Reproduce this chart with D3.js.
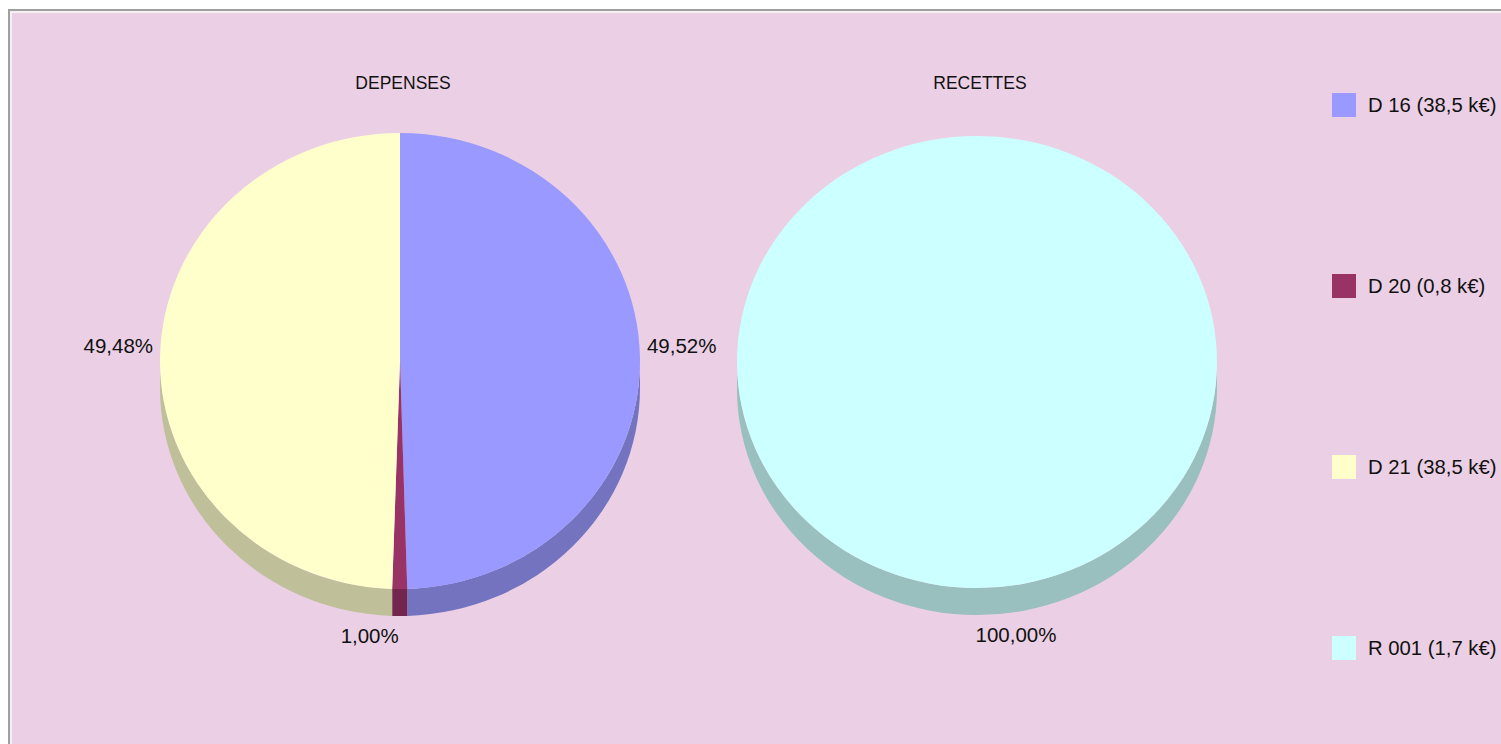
<!DOCTYPE html>
<html>
<head>
<meta charset="utf-8">
<script src="https://cdn.jsdelivr.net/npm/d3@7"></script>
<style>
  html, body { margin: 0; padding: 0; background: #fff; }
  svg { display: block; }
  text { font-family: "Liberation Sans", Arial, sans-serif; fill: #111; }
</style>
</head>
<body>
<svg id="chart" width="1501" height="744"></svg>
<script>
// data
let depTitle = "DEPENSES";
let recTitle = "RECETTES";
let depCats = ["D 16", "D 20", "D 21"];
let depPct = [49.52, 1.00, 49.48];
let recCats = ["R 001"];
let recPct = [100.00];
let legendCats = ["D 16", "D 20", "D 21", "R 001"];
let legendK = [38.5, 0.8, 38.5, 1.7];

let colors = {
    "D 16": "#9999ff",
    "D 20": "#993366",
    "D 21": "#ffffcc",
    "R 001": "#ccffff"
};

const W = 1501, H = 744;
const svg = d3.select("#chart");

// frame
svg.append("rect").attr("x", 8).attr("y", 9).attr("width", W).attr("height", H).attr("fill", "#a0a0a0");
svg.append("rect").attr("x", 10).attr("y", 11).attr("width", W).attr("height", H).attr("fill", "#f4f0f3");
svg.append("rect").attr("x", 12).attr("y", 13).attr("width", W).attr("height", H).attr("fill", "#ebd0e5");

let fmt = v => v.toFixed(2).replace(".", ",") + "%";
let fmtK = v => v.toFixed(1).replace(".", ",") + " k€";

// side colour = 75% of the face colour
function shade(c) {
    let r = d3.rgb(c);
    return d3.rgb(r.r * 0.75, r.g * 0.75, r.b * 0.75).toString();
}

let rx = 240, depth = 27;

function pie3d(cx, cy, ry, title, cats, vals, labelTweak) {
    let k = ry / rx;
    let g = svg.append("g");
    let slices = d3.pie().sort(null).value(d => d.v)(cats.map((c, i) => ({c: c, v: vals[i]})));

    // title
    g.append("text")
        .attr("x", cx + 3).attr("y", 89)
        .attr("text-anchor", "middle")
        .style("font-size", "17.5px")
        .text(title);

    let inner = g.append("g").attr("transform", "translate(" + cx + "," + cy + ") scale(1," + k + ")");
    let dd = depth / k;

    // side walls, only the front half shows
    slices.forEach(s => {
        let a0 = Math.max(s.startAngle, Math.PI / 2);
        let a1 = Math.min(s.endAngle, 3 * Math.PI / 2);
        if (a1 <= a0) return;
        let p = d3.path();
        p.arc(0, 0, rx, a0 - Math.PI / 2, a1 - Math.PI / 2);
        p.lineTo(rx * Math.cos(a1 - Math.PI / 2), rx * Math.sin(a1 - Math.PI / 2) + dd);
        p.arc(0, dd, rx, a1 - Math.PI / 2, a0 - Math.PI / 2, true);
        p.closePath();
        inner.append("path")
            .attr("d", p.toString())
            .attr("fill", shade(colors[s.data.c]));
    });

    // top faces
    let arc = d3.arc().innerRadius(0).outerRadius(rx);
    inner.selectAll("path.top").data(slices).join("path")
        .attr("class", "top")
        .attr("d", arc)
        .attr("fill", d => colors[d.data.c]);

    // percent labels
    slices.forEach((s, i) => {
        let mid = (s.startAngle + s.endAngle) / 2;
        let sx = Math.sin(mid), cyy = -Math.cos(mid);
        let x, y, anchor;
        if (Math.abs(sx) > 0.7) {
            x = cx + sx * (rx + 7);
            y = 353;
            anchor = sx > 0 ? "start" : "end";
        } else {
            x = cx + sx * rx;
            y = cy + ry * (cyy > 0 ? 1 : -1) + depth + 27;
            anchor = "middle";
        }
        g.append("text")
            .attr("x", x + (labelTweak[i] || 0)).attr("y", y)
            .attr("text-anchor", anchor)
            .style("font-size", "20.5px")
            .text(fmt(s.data.v));
    });
}

pie3d(400, 361, 228, depTitle, depCats, depPct, [0, -30, 0]);
pie3d(977, 362, 226, recTitle, recCats, recPct, [39]);

// legend
let ly = d3.scalePoint().domain(legendCats).range([105, 648]);
let lg = svg.append("g");
legendCats.forEach((c, i) => {
    lg.append("rect")
        .attr("x", 1332).attr("y", ly(c) - 12)
        .attr("width", 24).attr("height", 24)
        .attr("fill", colors[c]);
    lg.append("text")
        .attr("x", 1368).attr("y", ly(c) + 7)
        .style("font-size", "20.3px")
        .text(c + " (" + fmtK(legendK[i]) + ")");
});
</script>
</body>
</html>
